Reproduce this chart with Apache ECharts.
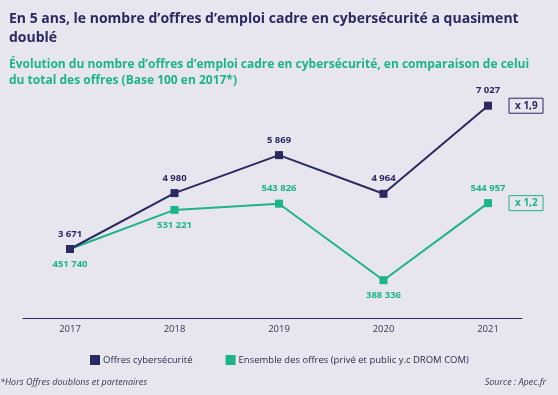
<!DOCTYPE html>
<html><head><meta charset="utf-8">
<script src="https://cdn.jsdelivr.net/npm/echarts@6/dist/echarts.min.js"></script>
<style>html,body{margin:0;padding:0;background:#e7e5ee;}#c{width:558px;height:395px;}</style>
</head><body><div id="c"></div>
<script>
const years = ['2017','2018','2019','2020','2021'];
const cyberOffers = [3671, 4980, 5869, 4964, 7027];
const allOffers = [451740, 531221, 543826, 388336, 544957];
const allLabelPos = ['bottom','bottom','top','bottom','top'];
const seriesNames = ['Offres cybersécurité','Ensemble des offres (privé et public y.c DROM COM)'];
const titleText = 'En 5 ans, le nombre d’offres d’emploi cadre en cybersécurité a quasiment\ndoublé';
const subtitleText = 'Évolution du nombre d’offres d’emploi cadre en cybersécurité, en comparaison de celui\ndu total des offres (Base 100 en 2017*)';
const footnote = '*Hors Offres doublons et partenaires';
const sourceText = 'Source : Apec.fr';

const NAVY = '#2b2960', GREEN = '#1db38b', FONT = 'Open Sans';
const fmt = v => String(v).replace(/\B(?=(\d{3})+(?!\d))/g, ' ');
const ratio = a => 'x ' + (a[a.length-1]/a[0]).toFixed(1).replace('.', ',');

const chart = echarts.init(document.getElementById('c'));
function boxMark(arr, color) {
  return {
    symbol: 'rect', symbolSize: 0,
    data: [{ coord: [years.length-1, arr[arr.length-1]], value: ratio(arr) }],
    label: { show: true, position: 'right', distance: 21, formatter: '{c}',
      color: color, fontFamily: FONT, fontWeight: 'bold', fontSize: 10,
      borderColor: color, borderWidth: 1, padding: [3, 6, 2, 6], width: 22, align: 'left' }
  };
}
chart.setOption({
  backgroundColor: '#e7e5ee',
  animation: false,
  title: [
    { text: titleText, left: 4, top: 5, textStyle: { color: NAVY, fontFamily: FONT, fontWeight: 'bold', fontSize: 14, lineHeight: 19 } },
    { text: subtitleText, left: 4, top: 52, textStyle: { color: GREEN, fontFamily: FONT, fontWeight: 'bold', fontSize: 12, lineHeight: 16 } },
    { text: footnote, left: 0, top: 378, padding: 0, textStyle: { color: '#3a3950', fontFamily: FONT, fontStyle: 'italic', fontWeight: 'normal', fontSize: 9 } },
    { text: sourceText, right: 12, top: 378, padding: 0, textStyle: { color: '#3a3950', fontFamily: FONT, fontStyle: 'italic', fontWeight: 'normal', fontSize: 9 } }
  ],
  legend: {
    left: 90, top: 355, padding: 0, icon: 'rect', itemWidth: 10, itemHeight: 10, itemGap: 33,
    textStyle: { color: '#2e2d48', fontFamily: FONT, fontSize: 9.5, padding: [0,0,0,-2] },
    data: seriesNames
  },
  grid: [
    { left: 70, width: 418, top: 80, bottom: 77 },
    { left: 23, width: 499, top: 80, bottom: 77 }
  ],
  xAxis: [
    { type: 'category', gridIndex: 0, data: years, boundaryGap: false,
      axisLine: { show: false }, axisTick: { show: false },
      axisLabel: { color: '#3a3950', fontFamily: FONT, fontSize: 9.5, margin: 6 } },
    { type: 'value', gridIndex: 1, axisLine: { show: true, lineStyle: { color: NAVY, width: 1 } },
      axisTick: { show: false }, axisLabel: { show: false }, splitLine: { show: false } }
  ],
  yAxis: [
    { type: 'value', gridIndex: 0, min: 2055, max: 7629, show: false, splitLine: { show: false } },
    { type: 'value', gridIndex: 0, min: 311496, max: 795236, show: false, splitLine: { show: false } },
    { type: 'value', gridIndex: 1, show: false, splitLine: { show: false } }
  ],
  series: [
    { name: seriesNames[1], type: 'line', xAxisIndex: 0, yAxisIndex: 1,
      data: allOffers.map((v, i) => ({ value: v, label: { position: allLabelPos[i] } })),
      symbol: 'rect', symbolSize: 8, lineStyle: { color: GREEN, width: 2 }, itemStyle: { color: GREEN },
      label: { show: true, distance: 6, formatter: p => fmt(p.value), color: GREEN, fontFamily: FONT, fontWeight: 'bold', fontSize: 9.5 },
      markPoint: boxMark(allOffers, GREEN), z: 2 },
    { name: seriesNames[0], type: 'line', xAxisIndex: 0, yAxisIndex: 0, data: cyberOffers,
      symbol: 'rect', symbolSize: 8, lineStyle: { color: NAVY, width: 2 }, itemStyle: { color: NAVY },
      label: { show: true, position: 'top', distance: 6, formatter: p => fmt(p.value), color: NAVY, fontFamily: FONT, fontWeight: 'bold', fontSize: 9.5 },
      markPoint: boxMark(cyberOffers, NAVY), z: 3 }
  ]
});
</script></body></html>
